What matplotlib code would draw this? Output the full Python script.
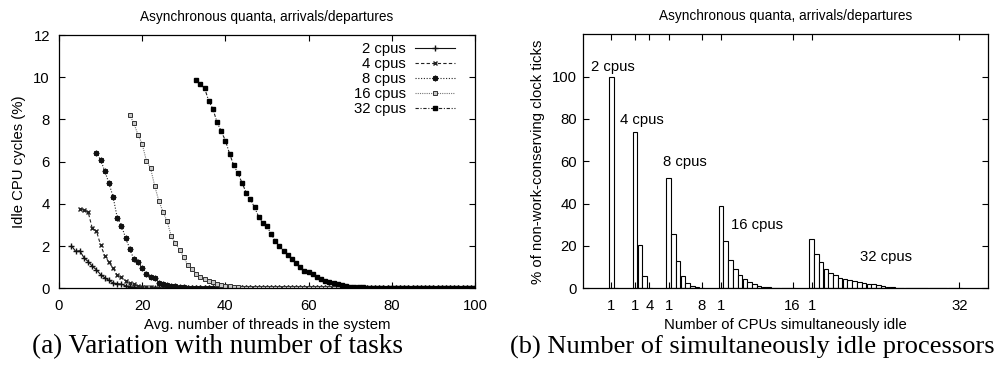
#!/usr/bin/env python3
"""Idle CPU cycles vs. thread count, and histogram of simultaneously idle CPUs."""
import numpy as np
import matplotlib
matplotlib.use("Agg")
import matplotlib.pyplot as plt

plt.rcParams["font.family"] = ["Liberation Sans", "DejaVu Sans"]
plt.rcParams["font.size"] = 10.7

TITLE = "Asynchronous quanta, arrivals/departures"
X_END = 100  # every curve runs out to 100 threads, flat at 0 after its tail

# (a) idle CPU cycles (%), first integer x of each curve, then read values
cpus = [2, 4, 8, 16, 32]
start_x = [3, 5, 9, 17, 33]
idle_2 = [2.02, 1.75, 1.78, 1.45, 1.27, 1.05, 0.88, 0.65, 0.5, 0.38, 0.25, 0.22,
          0.2, 0.12, 0.08, 0.05, 0.03, 0.02]
idle_4 = [3.78, 3.73, 3.62, 2.84, 2.72, 2.05, 1.55, 1.23, 0.95, 0.62, 0.55, 0.35,
          0.24, 0.2, 0.12, 0.08, 0.06, 0.04, 0.03, 0.02]
idle_8 = [6.43, 6.08, 5.56, 4.98, 4.34, 3.35, 2.97, 2.40, 1.88, 1.37, 1.26, 0.96,
          0.68, 0.55, 0.47, 0.24, 0.22, 0.18, 0.12, 0.1, 0.07, 0.05, 0.03, 0.02]
idle_16 = [8.21, 7.82, 7.27, 6.84, 6.05, 5.70, 4.86, 4.14, 3.63, 3.17, 2.46, 2.13,
           1.82, 1.47, 1.09, 0.93, 0.68, 0.55, 0.46, 0.35, 0.28, 0.2, 0.15, 0.12,
           0.1, 0.07, 0.05, 0.03, 0.02]
idle_32 = [9.86, 9.67, 9.48, 8.88, 8.49, 7.87, 7.44, 7.0, 6.38, 5.83, 5.45, 5.0,
           4.53, 4.22, 3.84, 3.39, 3.08, 2.95, 2.56, 2.26, 1.99, 1.78, 1.59, 1.40,
           1.21, 1.02, 0.80, 0.76, 0.68, 0.55, 0.46, 0.35, 0.28, 0.25, 0.2, 0.15,
           0.1, 0.08, 0.06, 0.05, 0.04, 0.03, 0.03, 0.02]
idle = [idle_2, idle_4, idle_8, idle_16, idle_32]

# (b) % of non-work-conserving ticks by number of idle CPUs (1..n)
ticks_2 = [100, 0]
ticks_4 = [74, 20.5, 5.8, 0]
ticks_8 = [52.2, 25.6, 13.1, 6.0, 2.4, 1.1, 0.8, 0.2]
ticks_16 = [39.1, 22.4, 13.3, 9.1, 6.4, 4.4, 2.9, 1.9, 1.2, 0.8, 0.5, 0.3, 0.2,
            0.1, 0.05, 0]
ticks_32 = [23.5, 16.2, 12.3, 9.1, 7.4, 6.1, 5.1, 4.4, 3.9, 3.4, 3.0, 2.6, 2.2,
            1.9, 1.5, 1.1, 0.8, 0.5, 0.35, 0.2, 0.15, 0.1, 0.05, 0.02, 0, 0, 0,
            0, 0, 0, 0, 0]
hist = [ticks_2, ticks_4, ticks_8, ticks_16, ticks_32]

styles = [
    dict(ls="-", marker="+", ms=4.5, color="#111111", mec="#111111"),
    dict(ls=(0, (3, 2)), marker="x", ms=3.5, color="#222222", mec="#222222"),
    dict(ls=(0, (1, 1.5)), marker=(8, 2, 0), ms=4, color="#222222", mec="#111111"),
    dict(ls=(0, (1, 1)), marker="s", ms=3.4, color="#777777", mfc="#c8c8c8", mec="#333333", mew=0.7),
    dict(ls=(0, (3, 1.5, 1, 1.5)), marker="s", ms=3.4, color="#222222", mfc="black", mec="black"),
]

fig = plt.figure(figsize=(10, 3.73), dpi=100)
ax1 = fig.add_axes([0.059, 0.227, 0.416, 0.679])
ax2 = fig.add_axes([0.5827, 0.227, 0.4053, 0.681])

for n, x0, ys, st in zip(cpus, start_x, idle, styles):
    y = np.concatenate([ys, np.zeros(X_END - x0 - len(ys) + 1)])
    x = np.arange(x0, X_END + 1)
    ax1.plot(x, y, lw=0.8, label=f"{n} cpus", **st)

ax1.set_xlim(0, 100); ax1.set_ylim(0, 12)
ax1.set_xticks(range(0, 101, 20)); ax1.set_yticks(range(0, 13, 2))
ax1.set_xlabel("Avg. number of threads in the system", labelpad=3)
ax1.set_ylabel("Idle CPU cycles (%)", labelpad=5)
ax1.set_title(TITLE, fontsize=9.8, pad=10)
ax1.legend(loc="upper right", bbox_to_anchor=(0.952, 0.972), frameon=False,
           markerfirst=False, handlelength=2.7, handletextpad=0.6,
           labelspacing=0.06, borderpad=0, borderaxespad=0)

# histogram: groups laid side by side with a gap of GAP empty slots
GAP = 3
ticks, tick_lbl = [], []
p = 0
for n, vals in zip(cpus, hist):
    px = p + np.arange(len(vals))
    ax2.bar(px, vals, width=0.95, color="white", edgecolor="black", lw=0.8)
    ticks += [px[0], px[-1]] if n > 2 else [px[0]]
    tick_lbl += ["1", str(n)] if n > 2 else ["1"]
    p = px[-1] + GAP + 1
ax2.set_xticks(ticks, tick_lbl)
ax2.set_xlim(-6, 79); ax2.set_ylim(0, 120)
ax2.set_yticks(range(0, 101, 20))
group_text = [(0.3, 104.5, "2 cpus"), (6.4, 79.7, "4 cpus"), (15.4, 59.7, "8 cpus"),
              (30.6, 29.7, "16 cpus"), (57.6, 14.7, "32 cpus")]
for tx, ty, s in group_text:
    ax2.text(tx, ty, s, ha="center", va="center")
ax2.set_xlabel("Number of CPUs simultaneously idle", labelpad=3)
ax2.set_ylabel("% of non-work-conserving clock ticks", labelpad=5)
ax2.set_title(TITLE, fontsize=9.8, pad=10)

for ax in (ax1, ax2):
    ax.tick_params(direction="in", top=True, right=True, length=4, width=0.8)
    ax.tick_params(axis="x", pad=8)
    for s in ax.spines.values():
        s.set_linewidth(0.9)
ax1.tick_params(axis="y", pad=6.5)
ax2.tick_params(axis="y", pad=4)

fig.text(0.218, 0.07, "(a) Variation with number of tasks", ha="center", va="center",
         family="Liberation Serif", fontsize=19.5)
fig.text(0.752, 0.07, "(b) Number of simultaneously idle processors", ha="center",
         va="center", family="Liberation Serif", fontsize=19)

fig.savefig("out.png", dpi=100)
